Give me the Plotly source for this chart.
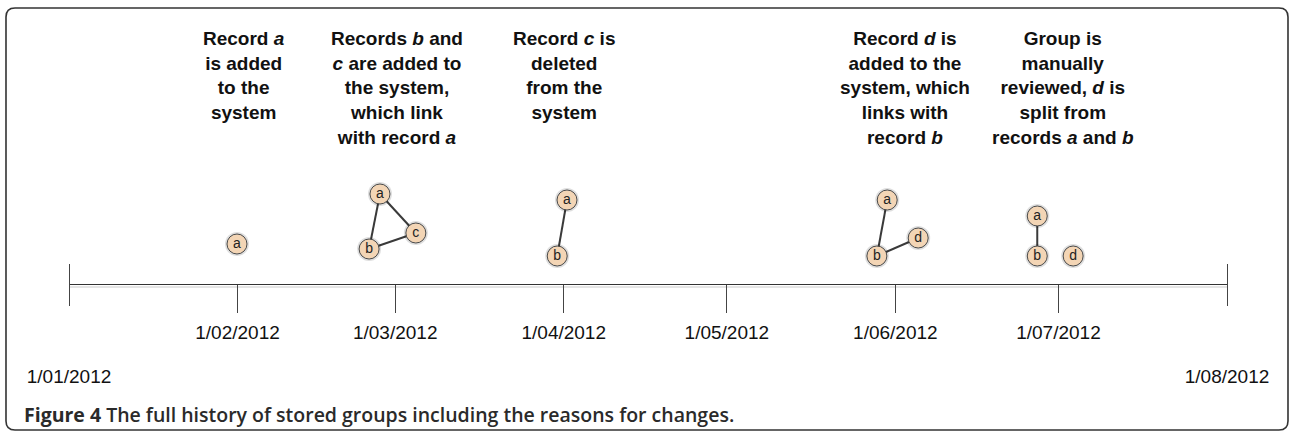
import pandas as pd
import plotly.graph_objects as go

# ---------------- data ----------------
start_date = "2012-01-01"
end_date = "2012-08-01"
month_ticks = ["2012-02-01", "2012-03-01", "2012-04-01", "2012-05-01", "2012-06-01", "2012-07-01"]
end_ticks = [start_date, end_date]

event_dates = ["2012-02-01", "2012-03-01", "2012-04-01", "2012-06-01", "2012-07-01"]
event_texts = [
    "Record <i>a</i><br>is added<br>to the<br>system",
    "Records <i>b</i> and<br><i>c</i> are added to<br>the system,<br>which link<br>with record <i>a</i>",
    "Record <i>c</i> is<br>deleted<br>from the<br>system",
    "Record <i>d</i> is<br>added to the<br>system, which<br>links with<br>record <i>b</i>",
    "Group is<br>manually<br>reviewed, <i>d</i> is<br>split from<br>records <i>a</i> and <i>b</i>",
]

# nodes of each stored group: label, day since 1 Jan 2012, height above timeline
node_group = [1, 2, 2, 2, 3, 3, 4, 4, 4, 5, 5, 5]
node_label = ["a", "a", "b", "c", "a", "b", "a", "b", "d", "a", "b", "d"]
node_day = [30.9, 57.2, 55.2, 63.8, 91.6, 89.8, 150.5, 148.6, 156.2, 178.1, 178.1, 184.7]
node_height = [40, 90, 35, 51, 84, 28, 84, 28, 46, 68, 28, 28]

# links (group, from label, to label)
edge_group = [2, 2, 2, 3, 4, 4, 5]
edge_from = ["a", "a", "b", "a", "a", "b", "a"]
edge_to = ["b", "c", "c", "b", "b", "d", "b"]

caption = "<b>Figure 4</b> The full history of stored groups including the reasons for changes."

# ---------------- figure ----------------
W, H = 1289, 431
base = pd.Timestamp(start_date)
node_x = [base + pd.Timedelta(days=d) for d in node_day]
pos = {(g, l): (x, h) for g, l, x, h in zip(node_group, node_label, node_x, node_height)}

fig = go.Figure()

ex, ey = [], []
for g, a, b in zip(edge_group, edge_from, edge_to):
    ex += [pos[(g, a)][0], pos[(g, b)][0], None]
    ey += [pos[(g, a)][1], pos[(g, b)][1], None]
fig.add_trace(go.Scatter(x=ex, y=ey, mode="lines", line=dict(color="#3a3a3a", width=2),
                         hoverinfo="skip", showlegend=False))

# soft shadow
fig.add_trace(go.Scatter(x=node_x, y=node_height, mode="markers",
                         marker=dict(size=24, color="rgba(0,0,0,0.13)", line=dict(width=0)),
                         hoverinfo="skip", showlegend=False))
fig.add_trace(go.Scatter(x=node_x, y=node_height, mode="markers+text", text=node_label,
                         textposition="middle center",
                         textfont=dict(family="Liberation Sans, Arial", size=14, color="#222"),
                         marker=dict(size=20, color="#f3d5b5", line=dict(color="#4a4a4a", width=1)),
                         hoverinfo="skip", showlegend=False))

# dummy trace for the end-date axis
fig.add_trace(go.Scatter(x=end_ticks, y=[0, 0], xaxis="x2", mode="markers",
                         marker=dict(opacity=0), hoverinfo="skip", showlegend=False))

text_xshift = [6, 2, 0, 10, 5]
for d, t, s in zip(event_dates, event_texts, text_xshift):
    fig.add_annotation(x=d, y=258, xref="x", yref="y", text="<b>" + t + "</b>", showarrow=False,
                       xanchor="center", yanchor="top", align="center", xshift=s,
                       font=dict(family="Liberation Sans, Arial", size=19, color="#111"))

fig.add_annotation(x=22 / W, y=(H - 414) / H, xref="paper", yref="paper", text=caption,
                   showarrow=False, xanchor="left", yanchor="middle",
                   font=dict(family="Open Sans", size=19.5, color="#2a2a2a", weight=600))

# faint shadow line under the timeline
fig.add_shape(type="line", xref="x", yref="y", x0=start_date, x1=end_date, y0=-3, y1=-3,
              line=dict(color="#dddddd", width=1.5), layer="below")

# rounded frame
def px(x, y):
    return f"{x / W:.5f},{1 - y / H:.5f}"
L_, T_, R_, B_, r = 6, 8, 1288, 430, 9
path = (f"M{px(L_ + r, T_)} L{px(R_ - r, T_)} Q{px(R_, T_)} {px(R_, T_ + r)} "
        f"L{px(R_, B_ - r)} Q{px(R_, B_)} {px(R_ - r, B_)} "
        f"L{px(L_ + r, B_)} Q{px(L_, B_)} {px(L_, B_ - r)} "
        f"L{px(L_, T_ + r)} Q{px(L_, T_)} {px(L_ + r, T_)} Z")
fig.add_shape(type="path", xref="paper", yref="paper", path=path,
              line=dict(color="#333", width=1.6))

tickfont = dict(family="Liberation Sans, Arial", size=19, color="#111")
fig.update_layout(
    width=W, height=H, margin=dict(l=0, r=0, t=0, b=0, pad=0, autoexpand=False),
    paper_bgcolor="white", plot_bgcolor="rgba(0,0,0,0)",
    xaxis=dict(type="date", domain=[69 / W, 1227 / W], range=[start_date, end_date],
               anchor="free", position=147 / H, showline=True, linecolor="#333", linewidth=1.3,
               showgrid=False, zeroline=False, ticks="outside", ticklen=28, tickwidth=1,
               tickcolor="#444", tickvals=month_ticks, tickformat="%-d/%m/%Y",
               tickfont=tickfont, ticklabelstandoff=3, automargin=False),
    xaxis2=dict(type="date", overlaying="x", range=[start_date, end_date],
                anchor="free", position=(H - 263) / H, showline=False, showgrid=False,
                zeroline=False, ticks="outside", ticklen=42, tickwidth=1, tickcolor="#444",
                tickvals=end_ticks, tickformat="%-d/%m/%Y", tickfont=tickfont,
                ticklabelstandoff=54, automargin=False),
    yaxis=dict(range=[-147, 284], domain=[0, 1], visible=False, fixedrange=True,
               automargin=False),
)

fig.write_html("out.html", config={"displayModeBar": False},
               post_script="document.body.style.margin='0';")
